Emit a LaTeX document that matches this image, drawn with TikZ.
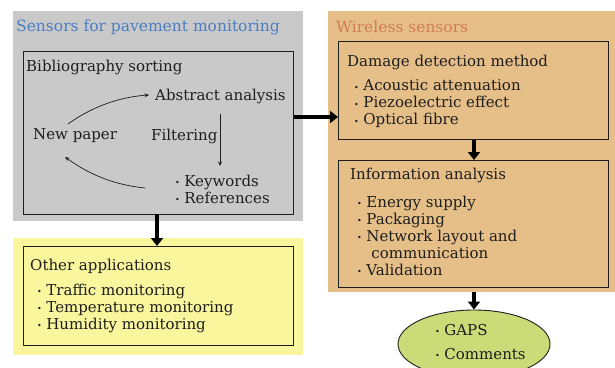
\documentclass[tikz,border=0pt]{standalone}
\usepackage{fontspec}
\setmainfont{DejaVu Serif}
\usetikzlibrary{arrows.meta,shapes.geometric}
\definecolor{panelgray}{HTML}{C9C9C9}
\definecolor{panelorange}{HTML}{E6BF88}
\definecolor{panelyellow}{HTML}{F9F69E}
\definecolor{ovalgreen}{HTML}{CADB78}
\definecolor{titleblue}{HTML}{4B7DC2}
\definecolor{titleorange}{HTML}{D27C55}
\definecolor{ink}{HTML}{1E1E1E}
\newcommand{\bul}{{\footnotesize\raisebox{0.15ex}{•}}\hspace{0.3em}}
\tikzset{
  panel/.style={draw=none, anchor=north west, inner sep=0pt},
  box/.style={draw=ink, line width=0.9pt, anchor=north west, inner sep=0pt},
  txt/.style={anchor=west, inner sep=0pt, text=ink, font=\fontsize{15}{17}\selectfont},
  list/.style={txt, align=left},
  ttl/.style={anchor=west, inner sep=0pt, font=\fontsize{15.5}{17}\selectfont},
  bigarrow/.style={line width=3.6pt, draw=black, -{Triangle[length=8pt,width=12pt]}},
  thinarrow/.style={line width=0.7pt, draw=ink, -{Stealth[length=4.5pt,width=4pt]}}
}
\begin{document}
\begin{tikzpicture}[x=1pt,y=-1pt]
\useasboundingbox (0,0) rectangle (615,367);
\fill[white] (0,0) rectangle (615,367);

% left column panels
\node[panel, fill=panelgray, minimum width=290pt, minimum height=210pt] (grayp) at (13,11) {};
\node[panel, fill=panelyellow, minimum width=290pt, minimum height=117pt] (yellowp) at (13,238) {};
% right column panel
\node[panel, fill=panelorange, minimum width=287pt, minimum height=281pt] (orangep) at (328,11) {};

\node[ttl, text=titleblue] (t1) at (16,27) {Sensors for pavement monitoring};
\node[ttl, text=titleorange] (t2) at (336,27) {Wireless sensors};

% inner boxes
\node[box, fill=panelgray, minimum width=270pt, minimum height=163pt] (biblio) at (23,51) {};
\node[box, fill=panelyellow, minimum width=270pt, minimum height=99pt] (other) at (23,246) {};
\node[box, fill=panelorange, minimum width=270pt, minimum height=98pt] (damage) at (338,41) {};
\node[box, fill=panelorange, minimum width=270pt, minimum height=127pt] (info) at (338,160) {};
\node[draw=ink, line width=0.9pt, fill=ovalgreen, ellipse, minimum width=152pt, minimum height=68pt] (gaps) at (474,344) {};

% bibliography sorting contents
\node[txt] (bs) at (26,67) {Bibliography sorting};
\node[txt] (abs) at (155,96) {Abstract analysis};
\node[txt] (np) at (33,136) {New paper};
\node[txt] (filt) at (151,136) {Filtering};
\node[list] (kw) at (175,189.5) {\bul Keywords\\\bul References};
\coordinate (downtop) at (220,114);
\coordinate (downbot) at (220,166);
\coordinate (loopa) at (68,124);
\coordinate (loopend) at (149,95);
\coordinate (loopb) at (145,188);
\coordinate (loopc) at (65,157);
\draw[thinarrow] (downtop) -- (downbot);
\draw[thinarrow] (loopa) .. controls (90,108) and (118,97) .. (loopend);
\draw[thinarrow] (loopb) .. controls (115,185) and (90,175) .. (loopc);

% other applications
\node[txt] (oa) at (30,266) {Other applications};
\node[list] (oal) at (37,308) {\bul Traffic monitoring\\\bul Temperature monitoring\\\bul Humidity monitoring};

% damage detection
\node[txt] (dd) at (347,62) {Damage detection method};
\node[list] (ddl) at (354,104) {\bul Acoustic attenuation\\\bul Piezoelectric effect\\\bul Optical fibre};

% information analysis
\node[txt] (ia) at (350,175) {Information analysis};
\node[list] (ial) at (357,236) {\bul Energy supply\\\bul Packaging\\\bul Network layout and\\\hspace{0.95em}communication\\\bul Validation};

% gaps oval
\node[list] (gl) at (435,342) {\bul GAPS\\[7pt]\bul Comments};

% main flow arrows
\draw[bigarrow] (biblio.east |- 0,117) -- (damage.west |- 0,117);
\draw[bigarrow] (157,214) -- (157,246);
\draw[bigarrow] (damage.south -| 474,0) -- (info.north -| 474,0);
\draw[bigarrow] (orangep.south -| 474,0) -- (gaps.north);
\end{tikzpicture}
\end{document}
